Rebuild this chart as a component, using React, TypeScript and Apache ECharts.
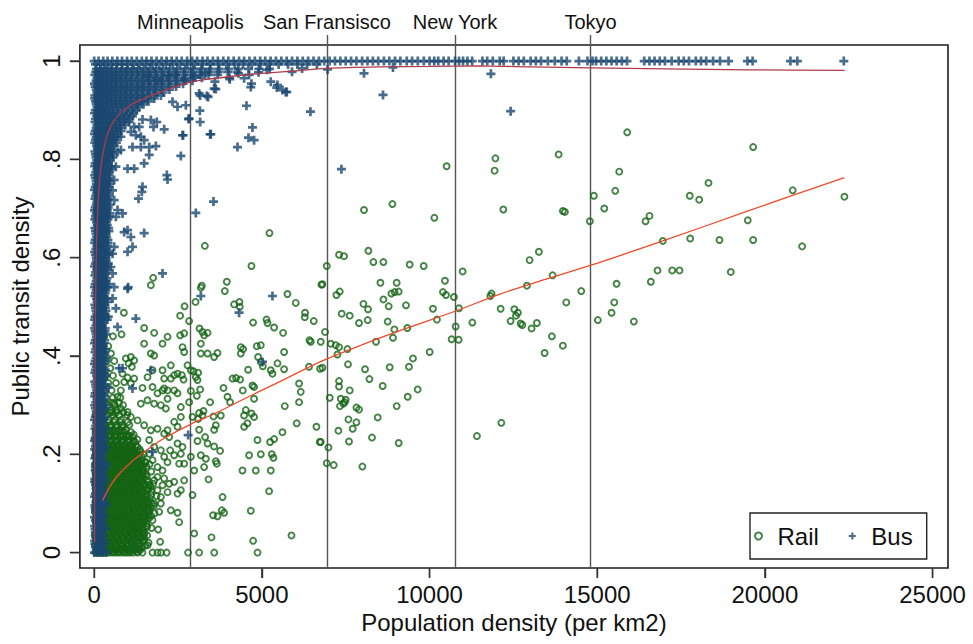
import React, { useEffect, useRef } from "react";
import * as echarts from "echarts";

// Reference cities marked as vertical lines (population density, per km2)
const cityNames = ["Minneapolis", "San Fransisco", "New York", "Tokyo"];
const cityDensity = [2870, 6940, 10760, 14800];

const xTicks = [0, 5000, 10000, 15000, 20000, 25000];
const yTicks = [0, 0.2, 0.4, 0.6, 0.8, 1];

// Rail: individual metro areas [population density, transit density]
const railPoints: number[][] = [
  [10510, 0.786], [11965, 0.802], [11940, 0.777], [13850, 0.81], [8046, 0.697], [8892, 0.709],
  [10144, 0.681], [12200, 0.698], [13976, 0.695], [14036, 0.693], [14900, 0.726], [14780, 0.674],
  [6935, 0.583], [6806, 0.546], [7301, 0.606], [7450, 0.603], [8177, 0.614], [8326, 0.591],
  [8624, 0.591], [9408, 0.586], [9825, 0.583], [10987, 0.572], [10460, 0.553], [10400, 0.53],
  [10490, 0.524], [10728, 0.52], [10877, 0.497], [8535, 0.549], [9020, 0.549], [7223, 0.524],
  [7322, 0.531], [8624, 0.515], [8862, 0.527], [8961, 0.53], [9080, 0.531], [8028, 0.506],
  [8165, 0.495], [8782, 0.501], [9298, 0.503], [10102, 0.496], [7381, 0.486], [7620, 0.482],
  [7897, 0.467], [8156, 0.473], [8752, 0.47], [10221, 0.474], [8952, 0.454], [8910, 0.437],
  [9339, 0.457], [10779, 0.46], [10659, 0.434], [10868, 0.433], [6884, 0.449], [6756, 0.429],
  [7054, 0.425], [7203, 0.422], [7301, 0.418], [7551, 0.414], [7253, 0.403], [8404, 0.429],
  [7569, 0.383], [8076, 0.373], [8207, 0.353], [8812, 0.377], [9387, 0.378], [9506, 0.395],
  [10004, 0.408], [6806, 0.376], [7301, 0.349], [7301, 0.338], [7620, 0.33], [8603, 0.339],
  [9646, 0.332], [9348, 0.317], [7024, 0.315], [7352, 0.313], [7500, 0.311],
  [11276, 0.468], [11812, 0.522], [11851, 0.527], [12120, 0.496], [12528, 0.495], [12635, 0.488],
  [12576, 0.482], [12417, 0.471], [12716, 0.466], [12766, 0.463], [13043, 0.456], [13201, 0.467],
  [12984, 0.595], [13261, 0.612], [12903, 0.543], [13669, 0.564], [14077, 0.509], [14524, 0.532],
  [13648, 0.44], [13976, 0.421], [13431, 0.406], [15019, 0.473],
  [7471, 0.306], [7331, 0.298], [7431, 0.303], [9020, 0.298], [7820, 0.295], [7897, 0.291],
  [7581, 0.271], [7820, 0.265], [8454, 0.275], [7283, 0.248], [7709, 0.252], [6756, 0.225],
  [7599, 0.226], [8284, 0.234], [9080, 0.223], [6985, 0.214], [6935, 0.182], [7143, 0.178],
  [7998, 0.175], [11413, 0.237], [12141, 0.264],
  [15895, 0.855], [19650, 0.825], [15657, 0.775], [15538, 0.736], [15210, 0.7], [18318, 0.752],
  [17760, 0.726], [18041, 0.718], [20830, 0.737], [22371, 0.724], [16441, 0.674], [16560, 0.685],
  [19489, 0.676], [16956, 0.634], [17773, 0.639], [18646, 0.636], [19650, 0.636], [21110, 0.623],
  [16798, 0.574], [17236, 0.574], [17454, 0.574], [18983, 0.571], [16599, 0.551], [15577, 0.547],
  [15508, 0.509], [15428, 0.488], [16093, 0.47],
  [3300, 0.624], [5227, 0.65], [4690, 0.583], [1759, 0.559], [1690, 0.544], [3210, 0.543],
  [3180, 0.539], [3955, 0.551], [3896, 0.532], [3022, 0.51], [2694, 0.501], [2563, 0.482],
  [2831, 0.471], [4172, 0.505], [4331, 0.51], [4342, 0.5], [4738, 0.468], [5138, 0.474],
  [5168, 0.467], [5764, 0.526], [6011, 0.508], [6289, 0.488], [6280, 0.479], [6548, 0.471],
  [6776, 0.545], [885, 0.488], [3141, 0.456],
  [5365, 0.458], [5633, 0.447], [6420, 0.432], [6459, 0.429], [5663, 0.408], [4968, 0.422],
  [4849, 0.42], [4888, 0.398], [4968, 0.388], [5028, 0.379], [4372, 0.418], [4441, 0.414],
  [4372, 0.405], [4590, 0.372], [4720, 0.34], [4768, 0.337], [5266, 0.371], [5316, 0.364],
  [5465, 0.385], [5663, 0.373], [6109, 0.344], [6159, 0.327], [6109, 0.306], [5683, 0.298],
  [6407, 0.378], [6736, 0.374], [4768, 0.313], [4521, 0.29], [4471, 0.279], [4690, 0.283],
  [4768, 0.276], [4471, 0.256], [4571, 0.263], [4869, 0.229], [5246, 0.225], [5365, 0.231],
  [5614, 0.245], [6040, 0.263], [6627, 0.256], [6727, 0.225], [4620, 0.198], [4968, 0.2],
  [5296, 0.2], [5345, 0.193], [4421, 0.167], [4819, 0.167], [5266, 0.167], [5216, 0.125],
  [4670, 0.085], [5883, 0.035], [4739, 0.024], [3499, 0.031], [3827, 0.113], [3806, 0.086],
  [3875, 0.081], [3546, 0.076], [3677, 0.074], [3410, 0.149], [3627, 0.186], [3657, 0.181],
  [3278, 0.174], [3329, 0.191], [3180, 0.198], [3576, 0.216], [3380, 0.222], [3308, 0.235],
  [3755, 0.207], [3130, 0.25], [3081, 0.227], [3627, 0.259], [3576, 0.25], [3558, 0.277],
  [3260, 0.288], [3130, 0.284], [3230, 0.279], [2932, 0.276], [3100, 0.272], [3856, 0.335],
  [3975, 0.317], [3776, 0.279], [4053, 0.306], [3457, 0.306], [3031, 0.357], [3081, 0.351],
  [3100, 0.366], [2962, 0.369], [3160, 0.332], [2882, 0.329], [2832, 0.306], [2614, 0.361],
  [2664, 0.352], [3061, 0.319], [4124, 0.354], [4232, 0.355], [4351, 0.352], [4431, 0.33],
  [3180, 0.405], [3180, 0.425], [3230, 0.449], [3380, 0.405], [3576, 0.398], [3677, 0.406],
  [2634, 0.418], [2683, 0.408], [2882, 0.371], [2783, 0.381], [2564, 0.442], [2683, 0.446],
  [3380, 0.447], [3278, 0.442], [2485, 0.364], [2286, 0.381], [2385, 0.33], [2485, 0.324],
  [2038, 0.33], [2187, 0.313], [2584, 0.296], [2584, 0.276], [2385, 0.266], [2485, 0.256],
  [2187, 0.249], [2485, 0.222], [2634, 0.215], [2266, 0.208], [2385, 0.198], [2584, 0.201],
  [2534, 0.181], [2683, 0.181], [2882, 0.195], [2981, 0.167], [2683, 0.147], [2385, 0.144],
  [2584, 0.127], [2485, 0.12], [2932, 0.117], [2187, 0.123], [2286, 0.086], [2485, 0.081],
  [2534, 0.062], [1988, 0.1], [1937, 0.083], [1908, 0.047], [1967, 0.022], [2981, 0.039],
  [1590, 0.015], [1341, 0.008], [1192, 0.011], [1143, 0.035], [894, 0.039], [1888, 0.127],
  [2038, 0.137], [1690, 0.134], [1789, 0.147],
  [816, 0.444], [1490, 0.457], [1789, 0.447], [2038, 0.425], [2187, 0.439], [1490, 0.425],
  [1690, 0.405], [1789, 0.401], [1093, 0.398], [945, 0.395], [1192, 0.391], [1025, 0.385],
  [1123, 0.378], [846, 0.364], [995, 0.356], [894, 0.347], [1093, 0.344], [1192, 0.354],
  [1441, 0.335], [1590, 0.357], [1739, 0.371], [2038, 0.371], [2087, 0.354], [2286, 0.354],
  [2385, 0.361], [1739, 0.337], [1888, 0.324], [2087, 0.334], [2187, 0.33], [1590, 0.31],
  [1391, 0.303], [1789, 0.303], [1988, 0.3], [2137, 0.293], [796, 0.33], [697, 0.317],
  [596, 0.303], [548, 0.286], [796, 0.293], [995, 0.286], [1093, 0.276], [1293, 0.269],
  [1490, 0.259], [1690, 0.249], [1888, 0.252], [2087, 0.242], [2236, 0.235], [1640, 0.229],
  [1789, 0.215], [1988, 0.208], [2087, 0.195], [2187, 0.184], [2038, 0.167], [1888, 0.174],
  [1739, 0.188], [1640, 0.201], [1888, 0.154], [2087, 0.151], [2236, 0.14], [1988, 0.113],
  [1789, 0.1], [1590, 0.086], [1739, 0.066], [1490, 0.066], [1292, 0.045], [1490, 0.032],
];

// Rail: the crowded low-density cluster, one row per transit-density level [y, x, x, ...]
const railClusterRows: number[][] = [
  [0, 40, 110, 190, 270, 350, 430, 520, 610, 700, 790, 880, 970, 1060, 1160, 1290, 1440, 1740, 1890, 1990, 2160, 2800, 3130, 3580, 4870],
  [0.005, 150, 310, 480, 650, 820, 1000, 1180, 1370],
  [0.01, 70, 230, 390, 560, 720, 900, 1070, 1250, 1430],
  [0.015, 20, 180, 340, 510, 680, 860, 1030, 1210, 1520],
  [0.02, 140, 300, 470, 640, 810, 990, 1160, 1340, 1620],
  [0.025, 90, 250, 420, 590, 760, 940, 1110, 1290, 1480],
  [0.03, 40, 200, 360, 530, 700, 880, 1050, 1230, 1410],
  [0.035, 10, 160, 320, 490, 660, 830, 1010, 1190, 1370, 1580],
  [0.04, 110, 270, 440, 610, 780, 950, 1130, 1300, 1500],
  [0.045, 80, 240, 400, 570, 740, 910, 1090, 1270, 1460],
  [0.05, 60, 220, 380, 550, 730, 900, 1080, 1260, 1450, 1710],
  [0.055, 140, 300, 470, 640, 810, 990, 1170, 1360, 1560],
  [0.06, 130, 290, 460, 630, 800, 970, 1150, 1330, 1560],
  [0.065, 30, 190, 350, 520, 690, 860, 1040, 1220, 1400],
  [0.07, 50, 210, 370, 540, 710, 880, 1060, 1240, 1420, 1640],
  [0.075, 120, 280, 450, 620, 790, 960, 1140, 1320, 1520, 1700],
  [0.08, 100, 260, 430, 600, 770, 940, 1120, 1300, 1490, 1800],
  [0.085, 60, 220, 390, 560, 730, 900, 1080, 1260, 1440, 1640],
  [0.09, 30, 190, 350, 520, 690, 860, 1040, 1210, 1390, 1580],
  [0.095, 110, 270, 440, 610, 780, 950, 1130, 1310, 1480, 1780],
  [0.1, 120, 280, 450, 620, 790, 960, 1140, 1320, 1510, 1720],
  [0.105, 40, 200, 370, 540, 710, 880, 1060, 1240, 1420, 1620],
  [0.11, 60, 220, 390, 560, 730, 900, 1080, 1260, 1450, 1660],
  [0.115, 130, 290, 460, 630, 800, 970, 1150, 1330, 1560, 1860],
  [0.12, 140, 300, 470, 640, 810, 980, 1160, 1340, 1530],
  [0.125, 60, 220, 390, 560, 730, 900, 1080, 1260, 1450, 1700],
  [0.13, 40, 200, 370, 540, 710, 880, 1060, 1240, 1430, 1620],
  [0.135, 120, 280, 450, 620, 790, 960, 1140, 1330, 1530],
  [0.14, 110, 270, 440, 610, 780, 950, 1130, 1310, 1500, 1760],
  [0.145, 30, 190, 350, 520, 690, 860, 1040, 1220, 1410, 1620],
  [0.15, 50, 210, 380, 550, 720, 890, 1070, 1250, 1440],
  [0.155, 110, 270, 440, 610, 780, 960, 1140, 1330, 1570],
  [0.16, 130, 290, 460, 630, 800, 970, 1150, 1330, 1540],
  [0.165, 40, 200, 370, 540, 710, 880, 1060, 1250, 1440, 1700],
  [0.17, 70, 230, 400, 570, 740, 910, 1090, 1270, 1460],
  [0.175, 130, 290, 460, 630, 800, 980, 1160, 1360, 1560],
  [0.18, 20, 180, 340, 510, 680, 850, 1030, 1210, 1400, 1650],
  [0.185, 80, 250, 420, 590, 760, 940, 1120, 1310, 1520],
  [0.19, 100, 260, 430, 600, 770, 940, 1120, 1300],
  [0.195, 30, 190, 350, 520, 690, 860, 1040, 1220, 1420],
  [0.2, 50, 210, 380, 550, 720, 890, 1070, 1260, 1480],
  [0.205, 120, 290, 460, 630, 800, 980, 1170, 1380],
  [0.21, 140, 300, 470, 640, 810, 980, 1170, 1360],
  [0.215, 60, 220, 390, 560, 730, 910, 1090, 1290],
  [0.22, 80, 240, 410, 580, 750, 930, 1110],
  [0.225, 150, 320, 490, 660, 840, 1020, 1220],
  [0.23, 30, 190, 360, 530, 700, 870, 1060, 1290],
  [0.235, 90, 260, 430, 600, 780, 960, 1150],
  [0.24, 120, 280, 450, 620, 800, 980, 1180],
  [0.245, 40, 200, 370, 540, 720, 900, 1100],
  [0.25, 60, 230, 400, 570, 750, 940],
  [0.255, 140, 310, 480, 660, 850],
  [0.26, 150, 320, 490, 660, 840, 1050],
  [0.265, 70, 240, 420, 600, 790, 1000],
  [0.27, 90, 260, 430, 610, 800],
  [0.28, 40, 210, 380, 560, 750, 980],
  [0.285, 110, 290, 470, 660, 870],
  [0.29, 140, 310, 490, 680],
  [0.3, 80, 250, 430, 620, 860],
  [0.305, 160, 340, 540, 740],
  [0.315, 170, 360, 560, 780],
  [0.33, 100, 300, 520],
  [0.345, 200, 420, 650],
  [0.36, 150, 350, 560],
  [0.375, 250, 480],
  [0.39, 120, 380, 600],
  [0.405, 260, 500],
  [0.42, 180, 420],
  [0.44, 300, 560],
  [0.46, 220],
  [0.48, 350],
];

// Rail: further metro areas packed into the same cluster, between the rows above
const railClusterRowsInner: number[][] = [
  [0.0025, 230, 400, 570, 740, 910, 1090, 1280],
  [0.0075, 110, 270, 440, 610, 780, 960, 1130, 1310],
  [0.0125, 150, 310, 480, 640, 810, 990, 1160, 1350],
  [0.0175, 100, 260, 430, 600, 770, 950, 1120, 1300],
  [0.0225, 60, 220, 390, 560, 730, 900, 1080, 1250, 1450],
  [0.0275, 170, 330, 500, 670, 850, 1020, 1200, 1380],
  [0.0325, 120, 280, 450, 620, 790, 970, 1140, 1320],
  [0.0375, 80, 240, 400, 570, 750, 920, 1100, 1280, 1470],
  [0.0425, 190, 350, 520, 690, 860, 1040, 1220, 1400],
  [0.0475, 150, 310, 480, 650, 820, 1000, 1170, 1360],
  [0.0525, 130, 300, 460, 640, 810, 990, 1170, 1350, 1580],
  [0.0575, 60, 220, 380, 550, 720, 900, 1080, 1260, 1460],
  [0.0625, 210, 370, 540, 710, 880, 1060, 1240, 1420],
  [0.0675, 110, 270, 440, 610, 780, 950, 1130, 1310, 1520],
  [0.0725, 130, 290, 460, 630, 800, 970, 1150, 1330, 1530],
  [0.0775, 190, 350, 520, 690, 860, 1040, 1220, 1410, 1610],
  [0.0825, 20, 180, 340, 510, 680, 850, 1030, 1210, 1390, 1590],
  [0.0875, 140, 300, 470, 640, 810, 990, 1170, 1350, 1540],
  [0.0925, 110, 270, 430, 600, 770, 940, 1120, 1300, 1480, 1690],
  [0.0975, 40, 200, 360, 530, 700, 870, 1050, 1230, 1410, 1620],
  [0.1025, 200, 360, 530, 700, 870, 1050, 1230, 1410, 1610],
  [0.1075, 120, 280, 450, 620, 790, 970, 1150, 1330, 1530],
  [0.1125, 140, 300, 470, 640, 810, 990, 1170, 1360, 1560],
  [0.1175, 50, 210, 380, 550, 720, 890, 1070, 1250, 1450, 1700],
  [0.1225, 60, 220, 390, 560, 730, 900, 1080, 1250, 1440],
  [0.1275, 140, 300, 470, 640, 810, 990, 1170, 1360, 1580],
  [0.1325, 120, 280, 450, 620, 790, 970, 1150, 1340],
  [0.1375, 40, 200, 370, 540, 710, 880, 1060, 1240, 1440, 1640],
  [0.1425, 190, 350, 520, 690, 860, 1040, 1220, 1410],
  [0.1475, 130, 290, 460, 630, 800, 980, 1160, 1350, 1560],
  [0.1525, 130, 290, 460, 630, 800, 980, 1160, 1350],
  [0.1575, 40, 190, 350, 520, 690, 870, 1050, 1240, 1450],
  [0.1625, 50, 210, 380, 550, 720, 890, 1070, 1260, 1470],
  [0.1675, 120, 280, 450, 620, 790, 970, 1150, 1350],
  [0.1725, 150, 310, 480, 650, 820, 1000, 1180, 1380],
  [0.1775, 60, 210, 370, 540, 710, 890, 1070, 1260, 1460],
  [0.1825, 100, 260, 430, 600, 770, 940, 1120, 1310, 1530],
  [0.1875, 170, 340, 510, 680, 850, 1030, 1220, 1420],
  [0.1925, 60, 220, 390, 560, 730, 900, 1080, 1270],
  [0.1975, 110, 270, 440, 610, 780, 950, 1140, 1350],
  [0.2025, 130, 300, 470, 640, 810, 990, 1180],
  [0.2075, 40, 200, 370, 540, 710, 890, 1080, 1280],
  [0.2125, 100, 260, 430, 600, 770, 950, 1140],
  [0.2175, 170, 330, 500, 670, 850, 1040, 1240],
  [0.2275, 110, 270, 440, 610, 790, 970, 1170],
  [0.2375, 170, 340, 510, 690, 870, 1060],
  [0.2475, 110, 290, 460, 640, 830],
];

// Bus: scattered metro areas [population density, transit density]
const busPoints: number[][] = [
  [7372, 0.78], [6449, 0.897], [8046, 0.975], [8613, 0.931], [11830, 0.974], [12418, 0.898],
  [6960, 0.983], [8910, 0.987],
  [2336, 0.917], [2485, 0.907], [2733, 0.91], [2813, 0.882], [3150, 0.899], [3160, 0.876],
  [3358, 0.929], [3130, 0.934], [3627, 0.943], [2634, 0.849], [2584, 0.807], [3478, 0.851],
  [3031, 0.691], [3558, 0.714], [4273, 0.825], [4601, 0.844], [4768, 0.839], [4720, 0.865],
  [4541, 0.909], [4670, 0.947], [4690, 0.954], [5266, 0.958], [5465, 0.951], [5743, 0.937],
  [4044, 0.963], [4471, 0.965], [2167, 0.768], [2187, 0.759], [1441, 0.744], [1421, 0.734],
  [1322, 0.72], [1490, 0.65], [1013, 0.54], [2038, 0.568], [1640, 0.809], [1490, 0.792],
  [1192, 0.781], [995, 0.781], [1839, 0.827], [1640, 0.825], [2087, 0.861], [1769, 0.866],
  [1868, 0.876], [1690, 0.88], [1441, 0.881], [1342, 0.866], [1192, 0.866], [1093, 0.856],
  [1243, 0.849], [1143, 0.825], [1391, 0.825], [1490, 0.839], [1391, 0.846], [796, 0.846],
  [697, 0.815], [796, 0.819], [647, 0.785], [596, 0.758], [548, 0.737], [596, 0.717],
  [697, 0.697], [846, 0.69], [647, 0.683], [894, 0.652], [995, 0.656], [1093, 0.642],
  [1143, 0.622], [995, 0.612], [596, 0.622], [548, 0.608], [498, 0.581], [548, 0.568],
  [596, 0.54], [995, 0.537],
  [5713, 0.937], [5614, 0.941], [5445, 0.946], [3576, 0.944], [3397, 0.927], [3160, 0.93],
  [2832, 0.883], [3457, 0.851], [2653, 0.849], [697, 0.459], [1243, 0.476], [3180, 0.522],
  [5316, 0.522], [4321, 0.488], [5018, 0.388], [2802, 0.239], [745, 0.375], [846, 0.375],
  [1690, 0.371], [548, 0.517], [647, 0.497], [1739, 0.205], [1143, 0.334],
  [1610, 0.968], [1910, 0.96], [2210, 0.97], [2410, 0.972], [2690, 0.962], [3000, 0.969],
  [3320, 0.976], [3600, 0.958], [4030, 0.966], [4300, 0.975], [4620, 0.972], [4900, 0.977],
  [5150, 0.982], [5900, 0.978], [6200, 0.985],
  [11271, 1], [11577, 1], [11720, 1], [11887, 1], [12093, 1], [12210, 1], [12501, 1], [12656, 1],
  [12811, 1], [13014, 1], [13169, 1], [13324, 1], [13529, 1], [13735, 1], [13937, 1], [14092, 1],
  [14453, 1], [14709, 1], [14861, 1], [14965, 1], [15118, 1], [15273, 1], [15427, 1], [15580, 1],
  [15734, 1], [15889, 1], [16402, 1], [16557, 1], [16709, 1], [16864, 1], [17019, 1], [17221, 1],
  [17427, 1], [17582, 1], [17737, 1], [17940, 1], [18095, 1], [18250, 1], [18455, 1], [18661, 1],
  [18917, 1], [19480, 1], [19635, 1], [20761, 1], [20967, 1], [22353, 1],
];

// Bus: the crowded low-density column and the band along full coverage [y, x, x, ...]
const busClusterRows: number[][] = [
  [0, 5, 90, 180, 270, 360], [0.012, 40, 140, 230], [0.024, 15, 100, 200, 300],
  [0.036, 60, 160, 250], [0.048, 25, 120, 215, 330], [0.06, 70, 170, 260],
  [0.072, 10, 105, 195, 290], [0.084, 50, 150, 240], [0.096, 20, 130, 225, 350],
  [0.108, 75, 165, 270], [0.12, 35, 110, 205, 300], [0.132, 60, 155, 245],
  [0.144, 15, 125, 220, 320], [0.156, 80, 175, 265], [0.168, 30, 100, 200, 290],
  [0.18, 55, 150, 250, 380], [0.192, 20, 120, 215], [0.204, 70, 165, 270],
  [0.216, 40, 135, 230, 340], [0.228, 10, 95, 190, 285], [0.24, 60, 160, 255],
  [0.252, 25, 125, 220, 330], [0.264, 75, 170, 270], [0.276, 35, 110, 205, 310],
  [0.288, 60, 150, 245], [0.3, 15, 120, 225, 340], [0.312, 80, 180, 280],
  [0.324, 30, 105, 200, 300], [0.336, 55, 150, 250, 420], [0.348, 20, 125, 215],
  [0.36, 70, 165, 265, 360], [0.372, 40, 135, 230, 330], [0.384, 10, 100, 195, 290],
  [0.396, 60, 160, 255, 380], [0.408, 25, 125, 220, 320], [0.42, 75, 175, 275],
  [0.432, 35, 110, 210, 310], [0.444, 60, 150, 250, 350], [0.456, 15, 120, 225, 330],
  [0.468, 80, 180, 280], [0.48, 30, 105, 200, 300, 420], [0.492, 55, 150, 250, 350],
  [0.504, 20, 125, 215, 320], [0.516, 70, 165, 265, 380], [0.528, 40, 135, 230, 330],
  [0.54, 10, 100, 195, 290, 400], [0.552, 60, 160, 255, 360], [0.564, 25, 125, 220, 320],
  [0.576, 75, 175, 275, 380], [0.588, 35, 110, 210, 310, 420], [0.6, 60, 150, 250, 350],
  [0.612, 15, 120, 225, 330, 450], [0.624, 80, 180, 280, 390], [0.636, 30, 105, 200, 300, 410],
  [0.648, 55, 150, 250, 350], [0.66, 20, 125, 215, 320, 430], [0.672, 70, 165, 265, 370],
  [0.684, 40, 135, 230, 330, 450], [0.696, 10, 100, 195, 290, 390], [0.708, 60, 160, 255, 360, 470],
  [0.72, 25, 125, 220, 320, 420], [0.732, 75, 175, 275, 380], [0.744, 35, 110, 210, 310, 420],
  [0.756, 60, 150, 250, 350, 460], [0.768, 15, 120, 225, 330, 440], [0.78, 80, 180, 280, 390, 510],
  [0.792, 30, 105, 200, 300, 410], [0.804, 55, 150, 250, 350, 460, 560],
  [0.816, 20, 125, 215, 320, 430, 540], [0.828, 70, 165, 265, 370, 480, 600],
  [0.84, 40, 150, 260, 380, 500, 630], [0.852, 10, 110, 220, 330, 450, 580, 720],
  [0.864, 60, 170, 280, 400, 520, 650, 790],
  [0.876, 25, 130, 240, 350, 470, 600, 740, 890, 1040],
  [0.888, 75, 180, 290, 410, 540, 680, 830, 980, 1140],
  [0.9, 35, 140, 250, 370, 500, 640, 790, 940, 1100, 1260],
  [0.912, 60, 170, 280, 400, 530, 670, 820, 970, 1130, 1300, 1470],
  [0.924, 15, 120, 230, 350, 480, 620, 770, 920, 1080, 1250, 1420, 1600, 1790],
  [0.936, 80, 190, 300, 420, 550, 690, 840, 990, 1150, 1320, 1490, 1670, 1860, 2060],
  [0.948, 30, 140, 250, 370, 500, 640, 790, 940, 1100, 1270, 1440, 1620, 1810, 2010, 2220, 2440],
  [0.96, 55, 160, 270, 390, 520, 660, 810, 960, 1120, 1290, 1460, 1640, 1830, 2030, 2240, 2460, 2690, 2930],
  [0.972, 20, 130, 240, 360, 490, 630, 780, 930, 1090, 1260, 1430, 1610, 1800, 2000, 2210, 2430, 2660, 2900, 3150, 3410, 3680],
  [0.984, 70, 180, 290, 410, 540, 680, 830, 980, 1140, 1310, 1480, 1660, 1850, 2050, 2260, 2480, 2710, 2950, 3200, 3460, 3730, 4010, 4300, 4600, 4910, 5230],
  [0.993, 40, 190, 340, 500, 660, 830, 1000, 1180, 1360, 1550, 1740, 1940, 2140, 2350, 2560, 2780, 3000, 3230, 3460, 3700, 3940, 4190, 4440, 4700, 4960, 5230, 5500, 5780, 6060, 6350, 6640],
  [1, 0, 130, 270, 400, 540, 690, 830, 980, 1120, 1270, 1420, 1560, 1710, 1860, 2010, 2160, 2310, 2460, 2610, 2770, 2920, 3070, 3230, 3380, 3540, 3690, 3850, 4000, 4160, 4320, 4470, 4630, 4790, 4950, 5100, 5260, 5420, 5580, 5740, 5900, 6060, 6220, 6380, 6540, 6700, 6860, 7020, 7180, 7340, 7500, 7660, 7820, 7990, 8150, 8310, 8470, 8640, 8800, 8970, 9130, 9320, 9480, 9650, 9830, 10000, 10140, 10260, 10420, 10570, 10760, 10880, 11000, 11130],
];

// Bus: further metro areas packed between the column rows above
const busClusterRowsInner: number[][] = [
  [0.006, 60, 150, 245], [0.018, 20, 110, 200, 290], [0.03, 70, 160, 250], [0.042, 35, 130, 225],
  [0.054, 15, 95, 185, 280], [0.066, 45, 140, 235], [0.078, 80, 170, 265], [0.09, 30, 115, 210],
  [0.102, 55, 150, 240, 320], [0.114, 10, 95, 185, 280], [0.126, 70, 165, 255], [0.138, 40, 130, 220],
  [0.15, 20, 105, 200, 290], [0.162, 60, 150, 240], [0.174, 35, 125, 215, 310], [0.186, 85, 175, 270],
  [0.198, 45, 135, 230], [0.21, 15, 100, 195, 290], [0.222, 55, 150, 245], [0.234, 30, 120, 210, 300],
  [0.246, 80, 170, 265], [0.258, 45, 140, 235], [0.27, 10, 95, 190, 285], [0.282, 65, 160, 255],
  [0.294, 35, 130, 220, 320], [0.306, 50, 145, 240], [0.318, 15, 105, 200, 295], [0.33, 75, 165, 260],
  [0.342, 40, 135, 225, 330], [0.354, 90, 180, 275], [0.366, 20, 110, 205, 300], [0.378, 60, 150, 245],
  [0.39, 30, 125, 220, 320], [0.402, 80, 175, 270], [0.414, 45, 140, 235, 340], [0.426, 10, 100, 195, 290],
  [0.438, 65, 160, 255], [0.45, 35, 130, 225, 320], [0.462, 50, 145, 240], [0.474, 15, 105, 200, 295, 390],
  [0.486, 75, 170, 265], [0.498, 40, 135, 230, 330], [0.51, 90, 185, 280, 400], [0.522, 20, 110, 205, 300],
  [0.534, 60, 155, 250, 350], [0.546, 30, 125, 220, 320, 430], [0.558, 80, 175, 270, 380],
  [0.57, 45, 140, 235, 340], [0.582, 10, 100, 195, 290, 400], [0.594, 65, 160, 255, 360],
  [0.606, 35, 130, 225, 330, 430], [0.618, 50, 145, 240, 350], [0.63, 15, 105, 200, 300, 410],
  [0.642, 75, 170, 265, 370], [0.654, 40, 135, 230, 330, 440], [0.666, 90, 185, 280, 390],
  [0.678, 20, 110, 205, 300, 410], [0.69, 60, 155, 250, 350, 460], [0.702, 30, 125, 220, 320, 420],
  [0.714, 80, 175, 270, 380], [0.726, 45, 140, 235, 340, 450], [0.738, 10, 100, 195, 290, 400],
  [0.75, 65, 160, 255, 360, 470], [0.762, 35, 130, 225, 330, 430], [0.774, 50, 145, 240, 350, 460],
  [0.786, 15, 105, 200, 300, 410, 520], [0.798, 75, 170, 265, 370, 480], [0.81, 40, 135, 230, 330, 440, 560],
  [0.822, 90, 185, 280, 390, 500], [0.834, 20, 110, 205, 300, 410, 530, 660],
  [0.846, 60, 155, 250, 350, 460, 580, 690], [0.858, 30, 125, 220, 320, 430, 550, 680, 800],
  [0.87, 80, 185, 290, 400, 520, 650, 790, 930],
  [0.882, 40, 145, 250, 360, 480, 610, 750, 900, 1060],
  [0.894, 10, 110, 215, 320, 440, 570, 710, 860, 1020, 1180],
  [0.906, 85, 190, 300, 420, 550, 690, 840, 990, 1150, 1320],
  [0.918, 40, 145, 250, 370, 500, 640, 790, 940, 1100, 1270, 1440, 1620],
  [0.93, 20, 125, 235, 350, 480, 620, 770, 920, 1080, 1250, 1420, 1600, 1790, 1990],
  [0.942, 60, 165, 275, 395, 525, 665, 815, 965, 1125, 1295, 1465, 1645, 1835, 2035, 2245],
  [0.954, 10, 115, 225, 345, 475, 615, 765, 915, 1075, 1245, 1415, 1595, 1785, 1985, 2195, 2415, 2650],
  [0.966, 85, 190, 300, 420, 550, 690, 840, 990, 1150, 1320, 1490, 1670, 1860, 2060, 2270, 2490, 2720, 2960, 3210],
  [0.978, 45, 150, 260, 380, 510, 650, 800, 950, 1110, 1280, 1450, 1630, 1820, 2020, 2230, 2450, 2680, 2920, 3170, 3430, 3700, 3980, 4260],
];

// Fitted curves
const railFitX = [250, 500, 800, 1100, 1400, 2000, 2900, 3600, 4600, 5600, 6800, 8000, 9300, 10800, 12100, 13500, 15100, 17000, 19500, 20800, 22370];
const railFitY = [0.106, 0.138, 0.164, 0.184, 0.2, 0.229, 0.262, 0.283, 0.317, 0.35, 0.39, 0.423, 0.456, 0.492, 0.526, 0.557, 0.591, 0.635, 0.695, 0.726, 0.763];
const busFitX = [12, 16, 22, 30, 42, 60, 85, 120, 160, 210, 270, 350, 450, 600, 800, 1000, 1200, 1400, 1700, 2100, 2700, 3300, 4000, 5000, 6000, 6900, 8500, 10000, 11500, 13000, 14800, 17000, 19500, 22380];
const busFitY = [0.02, 0.15, 0.3, 0.42, 0.52, 0.6, 0.665, 0.715, 0.755, 0.79, 0.815, 0.84, 0.86, 0.88, 0.895, 0.906, 0.915, 0.921, 0.93, 0.94, 0.954, 0.962, 0.968, 0.975, 0.98, 0.985, 0.988, 0.989, 0.99, 0.988, 0.986, 0.984, 0.982, 0.981];

const GREEN = "#146414";
const NAVY = "#1a476f";
const FONT = "'Liberation Sans', Arial, Helvetica, sans-serif";
const PLUS = "path://M3.5,0H6.5V3.5H10V6.5H6.5V10H3.5V6.5H0V3.5H3.5Z";
const FRAME = "#1c1c1c";
const TICK_COLOR = "#333333";
const TICK_LEN = 10;

const X_MIN = -426;
const X_MAX = 25460;
const Y_MIN = -0.0313;
const Y_MAX = 1.0326;

function expandRows(rows: number[][]): number[][] {
  const out: number[][] = [];
  rows.forEach((row) => {
    const y = row[0];
    for (let i = 1; i < row.length; i++) out.push([row[i], y]);
  });
  return out;
}

function zip(xs: number[], ys: number[]): number[][] {
  return xs.map((x, i) => [x, ys[i]]);
}

// Short outward tick below the frame at a data x position
function renderXTick(params: any, api: any) {
  const cs = params.coordSys;
  const x = api.coord([api.value(0), api.value(1)])[0];
  const yb = cs.y + cs.height;
  return {
    type: "line",
    shape: { x1: x, y1: yb, x2: x, y2: yb + TICK_LEN },
    style: { stroke: TICK_COLOR, lineWidth: 1.4 },
  };
}

// Short outward tick left of the frame at a data y position
function renderYTick(params: any, api: any) {
  const cs = params.coordSys;
  const y = api.coord([api.value(0), api.value(1)])[1];
  return {
    type: "line",
    shape: { x1: cs.x - TICK_LEN, y1: y, x2: cs.x, y2: y },
    style: { stroke: TICK_COLOR, lineWidth: 1.4 },
  };
}

export default function App() {
  const ref = useRef<HTMLDivElement>(null);

  useEffect(() => {
    if (!ref.current) return;
    const chart = echarts.init(ref.current, undefined, { renderer: "svg" });

    const railData = expandRows(railClusterRows)
      .concat(expandRows(railClusterRowsInner))
      .concat(railPoints);
    const busData = expandRows(busClusterRows)
      .concat(expandRows(busClusterRowsInner))
      .concat(busPoints);

    const yFmt = (v: number) => {
      if (Math.abs(v) < 1e-9) return "0";
      if (Math.abs(v - 1) < 1e-9) return "1";
      return "." + Math.round(v * 10);
    };
    const cityFmt = (v: number) => {
      let best = 0;
      cityDensity.forEach((c, i) => {
        if (Math.abs(c - v) < Math.abs(cityDensity[best] - v)) best = i;
      });
      return cityNames[best];
    };

    chart.setOption({
      animation: false,
      backgroundColor: "#ffffff",
      textStyle: { fontFamily: FONT },
      grid: {
        left: 79,
        top: 45,
        width: 869,
        height: 523,
        show: true,
        borderColor: FRAME,
        borderWidth: 1.6,
        backgroundColor: "transparent",
      },
      legend: {
        data: ["Rail", "Bus"],
        left: 750,
        top: 513,
        orient: "horizontal",
        padding: [11, 14, 11, 4],
        itemGap: 30,
        itemWidth: 22,
        itemHeight: 7,
        borderColor: "#222",
        borderWidth: 1.4,
        backgroundColor: "#ffffff",
        selectedMode: false,
        textStyle: { fontSize: 24, color: "#111", fontFamily: FONT, padding: [0, 0, 0, 3] },
      },
      xAxis: [
        {
          type: "value",
          min: X_MIN,
          max: X_MAX,
          position: "bottom",
          axisLine: { show: false, onZero: false },
          splitLine: { show: false },
          axisTick: { show: true, customValues: xTicks, length: TICK_LEN, lineStyle: { color: TICK_COLOR, width: 1.4 } },
          axisLabel: { customValues: xTicks, formatter: (v: number) => String(v), fontSize: 24, color: "#111", margin: 14, fontFamily: FONT },
          name: "Population density (per km2)",
          nameLocation: "middle",
          nameGap: 42,
          nameTextStyle: { fontSize: 24, color: "#111", fontFamily: FONT },
        },
        {
          type: "value",
          min: X_MIN,
          max: X_MAX,
          position: "top",
          axisLine: { show: false, onZero: false },
          splitLine: { show: false },
          axisTick: { show: true, customValues: cityDensity, length: TICK_LEN, lineStyle: { color: "#555", width: 1.4 } },
          axisLabel: { customValues: cityDensity, formatter: cityFmt, fontSize: 20, color: "#111", margin: 13, fontFamily: FONT },
        },
      ],
      yAxis: {
        type: "value",
        min: Y_MIN,
        max: Y_MAX,
        position: "left",
        axisLine: { show: false, onZero: false },
        splitLine: { show: false },
        axisTick: { show: true, customValues: yTicks, length: TICK_LEN, lineStyle: { color: TICK_COLOR, width: 1.4 } },
        axisLabel: { customValues: yTicks, formatter: yFmt, rotate: 90, fontSize: 24, color: "#111", margin: 16, fontFamily: FONT },
        name: "Public transit density",
        nameLocation: "middle",
        nameGap: 44,
        nameRotate: 90,
        nameTextStyle: { fontSize: 24, color: "#111", fontFamily: FONT },
      },
      series: [
        {
          name: "cities",
          type: "scatter",
          data: [],
          z: 1,
          silent: true,
          markLine: {
            silent: true,
            z: 1,
            symbol: ["none", "none"],
            label: { show: false },
            lineStyle: { color: "#555", width: 1.4, type: "solid" },
            emphasis: { disabled: true },
            data: cityDensity.map((v) => ({ xAxis: v })),
          },
        },
        {
          name: "Rail",
          type: "scatter",
          data: railData,
          z: 2,
          symbol: "circle",
          symbolSize: 6,
          progressive: 0,
          large: false,
          silent: true,
          itemStyle: { color: "rgba(0,0,0,0)", borderColor: GREEN, borderWidth: 1.9 },
        },
        {
          name: "Bus",
          type: "scatter",
          data: busData,
          z: 3,
          symbol: PLUS,
          symbolSize: 9,
          progressive: 0,
          large: false,
          silent: true,
          itemStyle: { color: NAVY },
        },
        {
          name: "Rail fit",
          type: "line",
          data: zip(railFitX, railFitY),
          z: 4,
          showSymbol: false,
          silent: true,
          smooth: 0.3,
          lineStyle: { color: "#ee4a2a", width: 1.3 },
        },
        {
          name: "Bus fit",
          type: "line",
          data: zip(busFitX, busFitY),
          z: 4,
          showSymbol: false,
          silent: true,
          smooth: 0.2,
          lineStyle: { color: "#b03a4a", width: 1.3 },
        },
        {
          name: "x ticks",
          type: "custom",
          renderItem: renderXTick,
          data: xTicks.map((v) => [v, 0]),
          encode: { x: 0, y: 1 },
          clip: false,
          silent: true,
          z: 20,
        },
        {
          name: "y ticks",
          type: "custom",
          renderItem: renderYTick,
          data: yTicks.map((v) => [0, v]),
          encode: { x: 0, y: 1 },
          clip: false,
          silent: true,
          z: 20,
        },
      ],
    });

    return () => chart.dispose();
  }, []);

  return (
    <div
      ref={ref}
      style={{ position: "fixed", left: 0, top: 0, width: 973, height: 644, background: "#fff" }}
    />
  );
}
